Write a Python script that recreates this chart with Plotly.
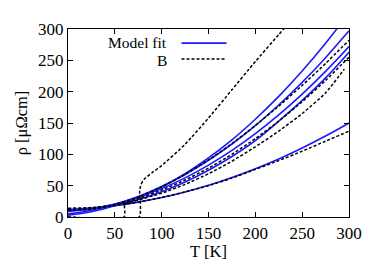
import plotly.graph_objects as go

# Temperature grid (K)
T = [0, 25, 50, 75, 100, 125, 150, 175, 200, 225, 250, 275, 300]

# Model fits (blue)
fit_a = [3, 8.5, 17.9, 31.1, 48.3, 69.3, 94.3, 123, 156, 192.4, 232.9, 277.3, 325.6]
fit_b = [5, 10.9, 20.1, 32.6, 48.6, 67.9, 90.5, 116.5, 145.9, 178.7, 214.8, 254.2, 297]
fit_c = [9, 13.3, 20.7, 31.4, 45.3, 62.4, 82.7, 106.2, 133, 162.9, 196.1, 232.4, 272]
fit_d = [10, 12.7, 18.6, 27.8, 40.2, 55.8, 74.6, 96.6, 122, 153, 186, 222, 263]
fit_e = [12, 14.2, 18.1, 23.7, 31, 40, 50.6, 62.9, 77, 92.7, 110.2, 129.2, 150]

# Measured data "B" (black dashed)
data_1 = [12, 13, 20, 32, 48, 68, 91, 117, 146, 177, 210, 245, 282]
data_2 = [11, 12.5, 19, 29, 43, 59, 78, 100, 125, 153, 184, 218, 255]
data_4 = [14, 15, 18.5, 24, 31, 40, 50, 62, 76, 90, 105, 121, 137]

T_3 = [0, 60, 60.5, 65, 75, 100, 125, 150, 175, 200, 225, 250, 275, 295]
data_3 = [0, 0, 20, 23, 27, 38, 52, 69, 89, 112, 137, 165, 198, 236]

T_5 = [0, 76, 76.5, 78, 81, 90, 100, 125, 150, 175, 200, 225, 235]
data_5 = [0, 0, 42, 52, 60, 71, 82, 116, 158, 203, 248, 291, 308]

BLUE = "#1a1aff"
fig = go.Figure()

for y in [fit_a, fit_b, fit_c, fit_d, fit_e]:
    fig.add_trace(go.Scatter(x=T, y=y, mode="lines", line=dict(color=BLUE, width=1.6, shape="spline"),
                             showlegend=False, hoverinfo="skip"))

dash = "3px,2px"
for x, y in [(T, data_1), (T, data_2), (T, data_4), (T_3, data_3), (T_5, data_5)]:
    fig.add_trace(go.Scatter(x=x, y=y, mode="lines",
                             line=dict(color="black", width=1.5, dash=dash, shape="spline", smoothing=0.5),
                             showlegend=False, hoverinfo="skip"))

font = dict(family="Liberation Serif", size=16.5, color="black")
legend_font = dict(family="Liberation Serif", size=15.5, color="black")
tick_font = dict(family="Liberation Serif", size=17, color="black")

axis_common = dict(range=[0, 300], dtick=50, ticks="inside", ticklen=5, tickwidth=1,
                   tickcolor="black", showline=True, linecolor="black", linewidth=1.2,
                   mirror="ticks", showgrid=False, zeroline=False, tickfont=tick_font)

# page body has an 8px default margin, so the figure is drawn 8px in from the corner
fig.update_layout(
    width=372, height=258,
    margin=dict(l=59, r=31, t=12, b=46),
    paper_bgcolor="white", plot_bgcolor="white",
    font=font,
    xaxis=dict(**axis_common, title=dict(text="T [K]", font=font, standoff=0)),
    yaxis=dict(**axis_common, title=dict(text="ρ [μΩcm]", font=font, standoff=6)),
)

# Legend (text left of sample, gnuplot style)
fig.add_annotation(x=0.358, y=0.93, xref="paper", yref="paper", text="Model fit",
                   showarrow=False, xanchor="right", yanchor="middle", font=legend_font)
fig.add_annotation(x=0.358, y=0.835, xref="paper", yref="paper", text="B",
                   showarrow=False, xanchor="right", yanchor="middle", font=legend_font)
fig.add_shape(type="line", xref="paper", yref="paper", x0=0.404, x1=0.564, y0=0.925, y1=0.925,
              line=dict(color=BLUE, width=1.6))
fig.add_shape(type="line", xref="paper", yref="paper", x0=0.404, x1=0.564, y0=0.84, y1=0.84,
              line=dict(color="black", width=1.5, dash=dash))

fig.write_html("out.html")
